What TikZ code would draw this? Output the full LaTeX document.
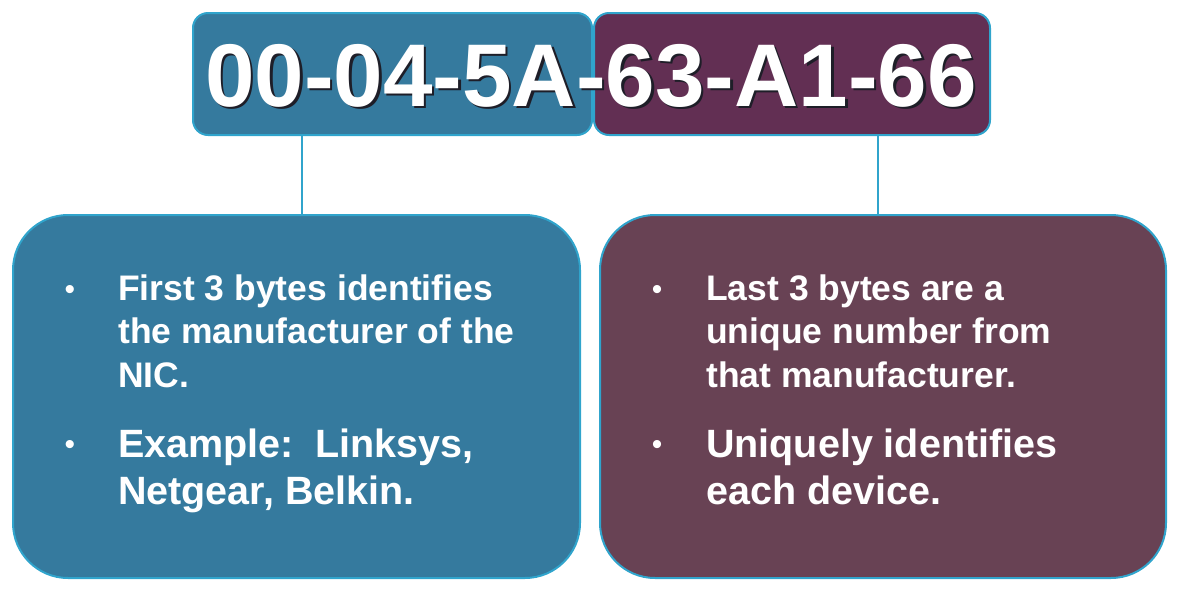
\documentclass[tikz,border=0pt]{standalone}
\usepackage{fontspec}
\setmainfont{Liberation Sans}
\begin{document}
\definecolor{macblue}{RGB}{53,122,158}
\definecolor{macplum}{RGB}{98,47,83}
\definecolor{boxplum}{RGB}{104,66,84}
\definecolor{rim}{RGB}{48,164,204}
\definecolor{shade}{RGB}{30,30,40}
\begin{tikzpicture}[x=1pt,y=-1pt,
  box/.style={draw=rim, line width=2pt, inner sep=0pt, outer sep=0pt},
  link/.style={draw=rim, line width=2pt},
  macfont/.style={font=\bfseries\fontsize{89}{89}\selectfont, inner sep=0pt},
  body/.style={font=\bfseries\fontsize{35.5}{43.5}\selectfont, text=white, align=left, anchor=base west, inner sep=0pt},
  bodybig/.style={body, font=\bfseries\fontsize{39.5}{47}\selectfont},
  dot/.style={font=\fontsize{30}{30}\selectfont, text=white, anchor=base, inner sep=0pt}]
\useasboundingbox (0,0) rectangle (1179,590);
% address bar, split into maker and serial halves
\node[box, fill=macblue, rounded corners=15pt, minimum width=399pt, minimum height=122pt] (topL) at (392.5,74) {};
\node[box, fill=macplum, rounded corners=15pt, minimum width=396pt, minimum height=122pt] (topR) at (792,74) {};
% description panels
\node[box, fill=macblue, rounded corners=55pt, minimum width=567pt, minimum height=363pt] (botL) at (296.5,396.5) {};
\node[box, fill=boxplum, rounded corners=55pt, minimum width=566pt, minimum height=363pt] (botR) at (883,396.5) {};
% connectors
\draw[link] ([xshift=5pt]botL.north) -- ([xshift=5pt]botL.north |- topL.south);
\draw[link] ([xshift=-5pt]botR.north) -- ([xshift=-5pt]botR.north |- topR.south);
% MAC address with drop shadow
\node[macfont, text=shade, anchor=base] (macshadow) at (593.5,108.5) {00-04-5A-63-A1-66};
\node[macfont, text=white, anchor=base] (mac) at (591,106) {00-04-5A-63-A1-66};
% left panel text (anchored on the baseline of each paragraph's last line)
\node[dot] (b1) at (70,299) {•};
\node[body] (t1) at (118,387) {First 3 bytes identifies\\the manufacturer of the\\NIC.};
\node[dot] (b2) at (70,454) {•};
\node[bodybig] (t2) at (118,504) {Example:\ \ Linksys,\\Netgear, Belkin.};
% right panel text
\node[dot] (b3) at (657,299) {•};
\node[body] (t3) at (706,387) {Last 3 bytes are a\\unique number from\\that manufacturer.};
\node[dot] (b4) at (657,454) {•};
\node[bodybig] (t4) at (706,504) {Uniquely identifies\\each device.};
\end{tikzpicture}
\end{document}
